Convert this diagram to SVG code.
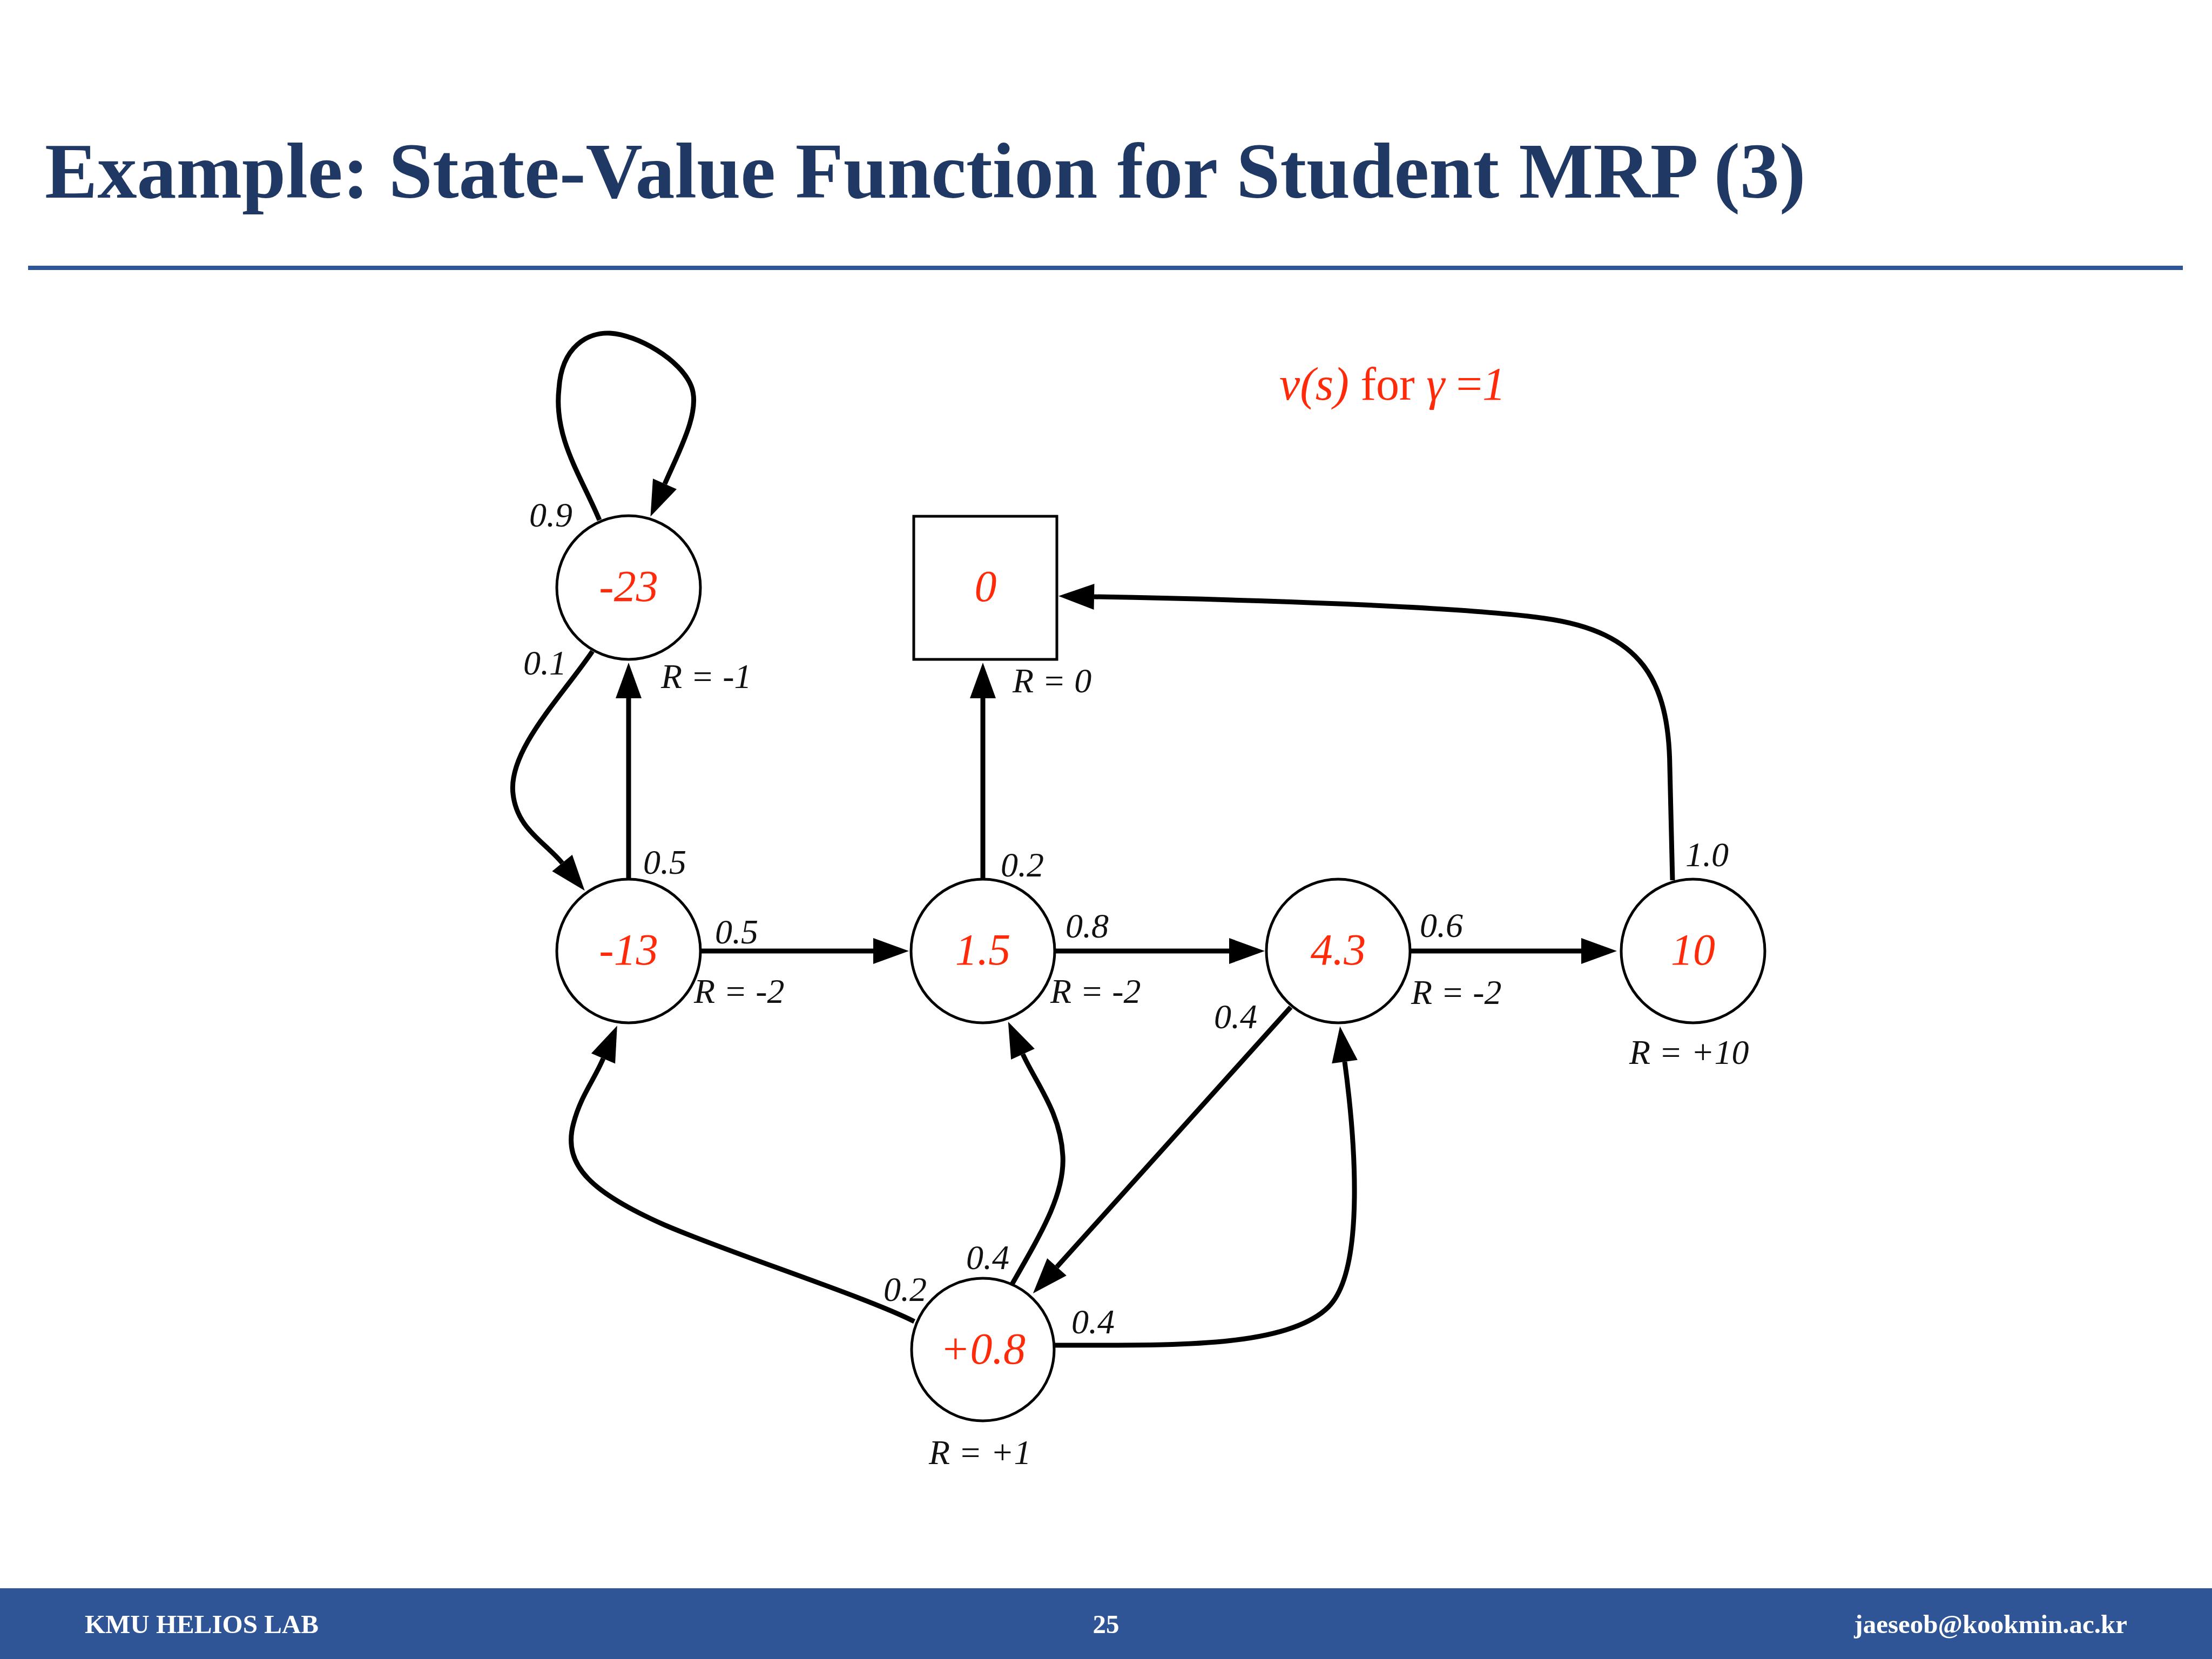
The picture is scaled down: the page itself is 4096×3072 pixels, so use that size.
<svg xmlns="http://www.w3.org/2000/svg" width="4096" height="3072" viewBox="0 0 4096 3072">
<defs>
<style>
.title{font-family:"Liberation Serif","Times New Roman",serif;font-weight:bold;font-size:146px;fill:#1F3864}
.foot{font-family:"Liberation Serif","Times New Roman",serif;font-weight:bold;font-size:49px;fill:#FFFFFF}
.node{fill:#FFFFFF;stroke:#000000;stroke-width:5}
.val{font-family:"Liberation Serif","Times New Roman",serif;font-style:italic;font-size:82px;fill:#FF2A0A;text-anchor:middle}
.lbl{font-family:"Liberation Serif","Times New Roman",serif;font-style:italic;font-size:64px;fill:#111111}
.edge{fill:none;stroke:#000000;stroke-width:9;marker-end:url(#arr)}
.note{font-family:"Liberation Serif","Times New Roman",serif;font-size:86px;fill:#FF2A0A}
</style>
<marker id="arr" markerUnits="userSpaceOnUse" markerWidth="66" markerHeight="48" refX="0" refY="24" orient="auto" overflow="visible">
<path d="M0,0 L66,24 L0,48 Z" fill="#000000"/>
</marker>
</defs>
<rect x="0" y="0" width="4096" height="3072" fill="#FFFFFF"/>
<text class="title" x="83" y="366">Example: State-Value Function for Student MRP (3)</text>
<rect x="52" y="492" width="3990" height="8" fill="#2F5597"/>

<g id="connectors">
<path class="edge" d="M1110,963 C1075,880 1025,810 1035,720 C1040,640 1090,615 1130,617 C1180,620 1260,665 1280,715 C1298,760 1260,830 1231,896"/>
<path class="edge" d="M1164,1628 L1164,1293"/>
<path class="edge" d="M1097,1206 C1040,1290 940,1390 950,1470 C957,1535 1010,1560 1041,1598"/>
<path class="edge" d="M1297,1761 L1617,1761"/>
<path class="edge" d="M1820,1628 L1820,1293"/>
<path class="edge" d="M1953,1761 L2276,1761"/>
<path class="edge" d="M2611,1761 L2928,1761"/>
<path class="edge" d="M2390,1865 L1957,2346"/>
<path class="edge" d="M1693,2447 C1600,2400 1350,2320 1230,2268 C1100,2210 1040,2160 1062,2080 C1075,2030 1100,2000 1117,1960"/>
<path class="edge" d="M1874,2378 C1930,2280 1972,2210 1968,2140 C1964,2060 1918,2005 1894,1952"/>
<path class="edge" d="M1951,2491 C2150,2490 2380,2500 2460,2420 C2530,2350 2508,2100 2490,1966"/>
<path class="edge" d="M3097,1630 L3092,1420 C3090,1260 3040,1170 2860,1145 C2700,1122 2300,1110 2026,1105"/>
</g>

<g id="node-m23">
<circle class="node" cx="1164" cy="1088" r="133"/>
<text class="val" x="1164" y="1113">-23</text>
</g>
<g id="node-terminal">
<rect class="node" x="1692" y="956" width="265" height="265"/>
<text class="val" x="1825" y="1113">0</text>
</g>
<g id="node-m13">
<circle class="node" cx="1164" cy="1761" r="133"/>
<text class="val" x="1164" y="1786">-13</text>
</g>
<g id="node-1p5">
<circle class="node" cx="1820" cy="1761" r="133"/>
<text class="val" x="1820" y="1786">1.5</text>
</g>
<g id="node-4p3">
<circle class="node" cx="2478" cy="1761" r="133"/>
<text class="val" x="2478" y="1786">4.3</text>
</g>
<g id="node-10">
<circle class="node" cx="3135" cy="1761" r="133"/>
<text class="val" x="3135" y="1786">10</text>
</g>
<g id="node-p08">
<circle class="node" cx="1820" cy="2499" r="132"/>
<text class="val" x="1820" y="2525">+0.8</text>
</g>

<g id="labels">
<text class="lbl" x="980" y="975">0.9</text>
<text class="lbl" x="969" y="1249">0.1</text>
<text class="lbl" x="1224" y="1274">R = -1</text>
<text class="lbl" x="1875" y="1282">R = 0</text>
<text class="lbl" x="1191" y="1618">0.5</text>
<text class="lbl" x="1324" y="1747">0.5</text>
<text class="lbl" x="1285" y="1857">R = -2</text>
<text class="lbl" x="1853" y="1623">0.2</text>
<text class="lbl" x="1973" y="1736">0.8</text>
<text class="lbl" x="1945" y="1857">R = -2</text>
<text class="lbl" x="2629" y="1735">0.6</text>
<text class="lbl" x="2613" y="1859">R = -2</text>
<text class="lbl" x="2248" y="1904">0.4</text>
<text class="lbl" x="3121" y="1604">1.0</text>
<text class="lbl" x="3017" y="1970">R = +10</text>
<text class="lbl" x="1789" y="2350">0.4</text>
<text class="lbl" x="1636" y="2409">0.2</text>
<text class="lbl" x="1984" y="2469">0.4</text>
<text class="lbl" x="1720" y="2711">R = +1</text>
</g>

<text class="note" x="2369" y="740"><tspan font-style="italic">v(s)</tspan> for <tspan font-style="italic">γ</tspan> =<tspan font-style="italic">1</tspan></text>

<rect x="0" y="2941" width="4096" height="131" fill="#2F5597"/>
<text class="foot" x="157" y="3024">KMU HELIOS LAB</text>
<text class="foot" x="2048" y="3024" text-anchor="middle">25</text>
<text class="foot" x="3939" y="3024" text-anchor="end">jaeseob@kookmin.ac.kr</text>
</svg>
